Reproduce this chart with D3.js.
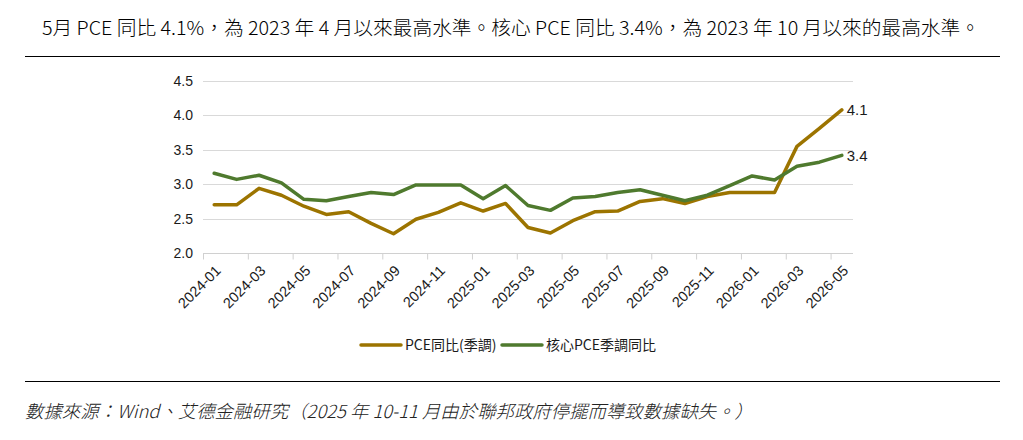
<!DOCTYPE html>
<html>
<head>
<meta charset="utf-8">
<script src="https://cdn.jsdelivr.net/npm/d3@7"></script>
<style>
  body { margin: 0; background: #fff; }
  svg { display: block; }
</style>
</head>
<body>
<div id="vis"></div>
<script>
const FRAME_WIDTH = 1023;
const FRAME_HEIGHT = 440;
const PLOT = {left: 203, right: 853, top: 81, bottom: 253};

const TITLE = "5月 PCE 同比 4.1%，為 2023 年 4 月以來最高水準。核心 PCE 同比 3.4%，為 2023 年 10 月以來的最高水準。";
const SOURCE = "數據來源：Wind、艾德金融研究（2025 年 10-11 月由於聯邦政府停擺而導致數據缺失。）";

const months = ["2024-01","2024-02","2024-03","2024-04","2024-05","2024-06","2024-07","2024-08","2024-09","2024-10","2024-11","2024-12",
                "2025-01","2025-02","2025-03","2025-04","2025-05","2025-06","2025-07","2025-08","2025-09","2025-10","2025-11","2025-12",
                "2026-01","2026-02","2026-03","2026-04","2026-05"];
const pce = [2.70, 2.70, 2.94, 2.84, 2.68, 2.56, 2.60, 2.43, 2.28, 2.49, 2.59, 2.73,
             2.61, 2.72, 2.37, 2.29, 2.47, 2.60, 2.61, 2.75, 2.79, 2.72, 2.82, 2.88,
             2.88, 2.88, 3.55, 3.81, 4.08];
const core = [3.16, 3.07, 3.13, 3.02, 2.78, 2.76, 2.82, 2.88, 2.85, 2.99, 2.99, 2.99,
              2.79, 2.98, 2.69, 2.62, 2.80, 2.82, 2.88, 2.92, 2.84, 2.76, 2.84, 2.98,
              3.12, 3.06, 3.26, 3.32, 3.42];
const yTicks = [2.0, 2.5, 3.0, 3.5, 4.0, 4.5];
const seriesNames = ["PCE同比(季調)", "核心PCE季調同比"];
const endLabels = ["4.1", "3.4"];
const COLORS = ["#9c7400", "#4f7a2e"];

const CJK = "'Noto Sans CJK TC', 'Noto Sans', sans-serif";
const LATIN = "'Liberation Sans', Arial, sans-serif";

const FRAME = d3.select("#vis")
  .append("svg")
    .attr("width", FRAME_WIDTH)
    .attr("height", FRAME_HEIGHT);

// title + rules
FRAME.append("text")
  .attr("x", 42).attr("y", 35)
  .attr("font-family", CJK)
  .attr("font-size", 19)
  .attr("font-weight", 300)
  .attr("textLength", 938)
  .attr("lengthAdjust", "spacingAndGlyphs")
  .attr("fill", "#000")
  .text(TITLE);

FRAME.append("line").attr("x1", 25).attr("x2", 1000).attr("y1", 56.5).attr("y2", 56.5)
  .attr("stroke", "#000").attr("stroke-width", 1);
FRAME.append("line").attr("x1", 25).attr("x2", 1000).attr("y1", 381.5).attr("y2", 381.5)
  .attr("stroke", "#000").attr("stroke-width", 1);

FRAME.append("text")
  .attr("x", 25).attr("y", 418)
  .attr("font-family", CJK)
  .attr("font-size", 18)
  .attr("font-weight", 300)
  .attr("font-style", "italic")
  .attr("textLength", 728)
  .attr("lengthAdjust", "spacingAndGlyphs")
  .attr("fill", "#222")
  .text(SOURCE);

// scales
const X_SCALE = d3.scalePoint()
  .domain(months)
  .range([PLOT.left, PLOT.right])
  .padding(0.5);
const STEP = X_SCALE.step();

const Y_SCALE = d3.scaleLinear()
  .domain([2.0, 4.5])
  .range([PLOT.bottom, PLOT.top]);

// gridlines
FRAME.append("g")
  .selectAll("line")
  .data(yTicks.slice(1))
  .enter()
  .append("line")
    .attr("x1", PLOT.left).attr("x2", PLOT.right)
    .attr("y1", d => Math.round(Y_SCALE(d)) + 0.5)
    .attr("y2", d => Math.round(Y_SCALE(d)) + 0.5)
    .attr("stroke", "#d9d9d9");

// y axis
const yAxis = FRAME.append("g")
  .attr("transform", "translate(" + PLOT.left + ",0)")
  .call(d3.axisLeft(Y_SCALE).tickValues(yTicks).tickFormat(d3.format(".1f")).tickSize(0).tickPadding(10));
yAxis.select(".domain").remove();
yAxis.selectAll("text")
  .attr("font-family", LATIN)
  .attr("font-size", 14)
  .attr("fill", "#1a1a1a");

// x axis: ticks on category boundaries every 2 months
const evenMonths = months.filter((d, i) => i % 2 === 0);
const xAxis = FRAME.append("g")
  .attr("transform", "translate(0," + (Math.round(PLOT.bottom) + 0.5) + ")")
  .call(d3.axisBottom(X_SCALE).tickValues(evenMonths).tickSizeOuter(0).tickSize(6));
xAxis.select(".domain")
  .attr("stroke", "#d0d0d0")
  .attr("d", "M" + PLOT.left + ",0H" + PLOT.right);
xAxis.selectAll(".tick line")
  .attr("stroke", "#d0d0d0")
  .attr("x1", -STEP / 2).attr("x2", -STEP / 2);
xAxis.selectAll(".tick text")
  .attr("font-family", LATIN)
  .attr("font-size", 14.5)
  .attr("fill", "#1a1a1a")
  .attr("text-anchor", "end")
  .attr("dy", null)
  .attr("y", 0)
  .attr("transform", "translate(7,18) rotate(-45)");

// lines
const lineGen = (vals) => d3.line()
  .x((d, i) => X_SCALE(months[i]))
  .y(d => Y_SCALE(d))(vals);

[pce, core].forEach((vals, k) => {
  FRAME.append("path")
    .attr("d", lineGen(vals))
    .attr("fill", "none")
    .attr("stroke", COLORS[k])
    .attr("stroke-width", 3.5)
    .attr("stroke-linejoin", "round")
    .attr("stroke-linecap", "round");

  FRAME.append("text")
    .attr("x", X_SCALE(months[months.length - 1]) + 5)
    .attr("y", Y_SCALE(vals[vals.length - 1]))
    .attr("dy", "0.35em")
    .attr("font-family", LATIN)
    .attr("font-size", 15)
    .attr("fill", "#1a1a1a")
    .text(endLabels[k]);
});

// legend
const legendX = [361, 502];
const legend = FRAME.append("g");
seriesNames.forEach((name, k) => {
  legend.append("line")
    .attr("x1", legendX[k]).attr("x2", legendX[k] + 40)
    .attr("y1", 345).attr("y2", 345)
    .attr("stroke", COLORS[k])
    .attr("stroke-width", 3.5)
    .attr("stroke-linecap", "round");
  legend.append("text")
    .attr("x", legendX[k] + 44)
    .attr("y", 345)
    .attr("dy", "0.35em")
    .attr("font-family", CJK)
    .attr("font-size", 14)
    .attr("fill", "#1a1a1a")
    .text(name);
});
</script>
</body>
</html>
